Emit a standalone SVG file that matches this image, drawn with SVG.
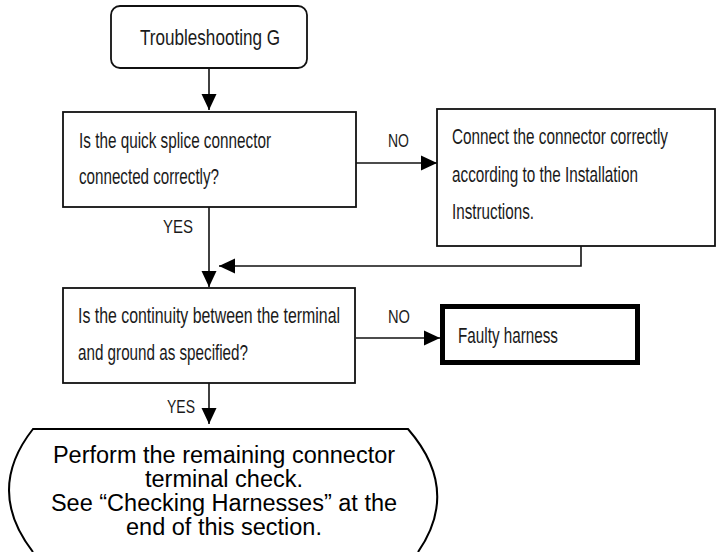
<svg xmlns="http://www.w3.org/2000/svg" width="716" height="552" viewBox="0 0 716 552">
  <defs>
    <marker id="arrow" viewBox="0 0 16 16" markerWidth="16" markerHeight="16" refX="16" refY="8" orient="auto" markerUnits="userSpaceOnUse">
      <path d="M0,0.5 L16,8 L0,15.5 Z" fill="#000"/>
    </marker>
  </defs>
  <style>
    .box { fill: #fff; stroke: #111; stroke-width: 1.8; }
    .thick { fill: #fff; stroke: #000; stroke-width: 5; }
    .conn { fill: none; stroke: #111; stroke-width: 1.6; }
    .nt { font-family: "Liberation Sans Narrow", "Liberation Sans", Arial, sans-serif; font-size: 21.5px; fill: #1a1a1a; }
    .lbl { font-family: "Liberation Sans Narrow", "Liberation Sans", Arial, sans-serif; font-size: 18px; fill: #1a1a1a; }
    .big { font-family: "Liberation Sans", Arial, sans-serif; font-size: 23.5px; fill: #000; text-anchor: middle; }
  </style>
  <rect width="716" height="552" fill="#fff"/>

  <g id="connectors">
    <path class="conn" d="M209,68 V110" marker-end="url(#arrow)"/>
    <path class="conn" d="M356,163 H437" marker-end="url(#arrow)"/>
    <path class="conn" d="M581,246 V266 H219" marker-end="url(#arrow)"/>
    <path class="conn" d="M209,207 V287" marker-end="url(#arrow)"/>
    <path class="conn" d="M356,338 H440" marker-end="url(#arrow)"/>
    <path class="conn" d="M209,383 V424" marker-end="url(#arrow)"/>
    <text class="lbl" x="388" y="147" textLength="21" lengthAdjust="spacingAndGlyphs">NO</text>
    <text class="lbl" x="163" y="233" textLength="30" lengthAdjust="spacingAndGlyphs">YES</text>
    <text class="lbl" x="388" y="323" textLength="22" lengthAdjust="spacingAndGlyphs">NO</text>
    <text class="lbl" x="167" y="413" textLength="28" lengthAdjust="spacingAndGlyphs">YES</text>
  </g>

  <g id="start">
    <rect class="box" x="111" y="6" width="196" height="62" rx="9"/>
    <text class="nt" x="140" y="45" style="font-size:22.5px" textLength="140" lengthAdjust="spacingAndGlyphs">Troubleshooting G</text>
  </g>

  <g id="q1">
    <rect class="box" x="63" y="112" width="293" height="95"/>
    <text class="nt" x="79" y="148" textLength="192" lengthAdjust="spacingAndGlyphs">Is the quick splice connector</text>
    <text class="nt" x="79" y="184" textLength="140" lengthAdjust="spacingAndGlyphs">connected correctly?</text>
  </g>

  <g id="fix1">
    <rect class="box" x="437" y="109" width="278" height="137"/>
    <text class="nt" x="452" y="144" textLength="216" lengthAdjust="spacingAndGlyphs">Connect the connector correctly</text>
    <text class="nt" x="452" y="182" textLength="186" lengthAdjust="spacingAndGlyphs">according to the Installation</text>
    <text class="nt" x="452" y="219" textLength="82" lengthAdjust="spacingAndGlyphs">Instructions.</text>
  </g>

  <g id="q2">
    <rect class="box" x="63" y="288" width="292" height="95"/>
    <text class="nt" x="78" y="323" textLength="262" lengthAdjust="spacingAndGlyphs">Is the continuity between the terminal</text>
    <text class="nt" x="78" y="360" textLength="170" lengthAdjust="spacingAndGlyphs">and ground as specified?</text>
  </g>

  <g id="faulty">
    <rect class="thick" x="442.5" y="306.5" width="195" height="56"/>
    <text class="nt" x="458" y="343" textLength="100" lengthAdjust="spacingAndGlyphs">Faulty harness</text>
  </g>

  <g id="end">
    <path d="M33,552 Q-15,490 33,429 H408 Q461,490 418,552" fill="#fff" stroke="#000" stroke-width="2"/>
    <text class="big" x="224" y="463">Perform the remaining connector</text>
    <text class="big" x="224" y="487">terminal check.</text>
    <text class="big" x="224" y="511">See “Checking Harnesses” at the</text>
    <text class="big" x="224" y="535">end of this section.</text>
  </g>
</svg>
